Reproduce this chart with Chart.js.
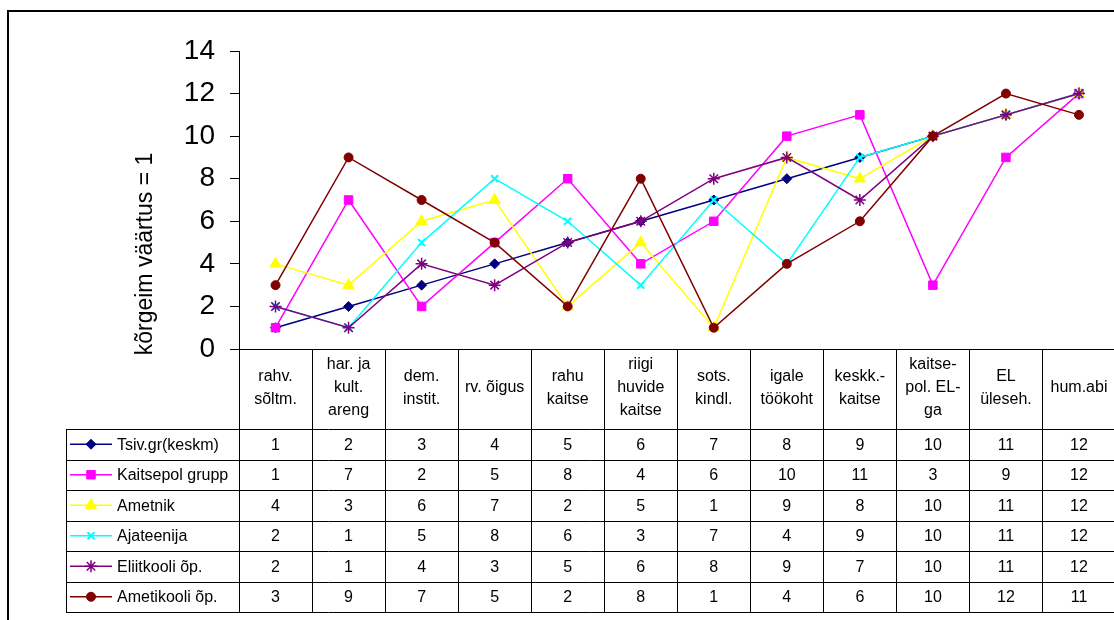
<!DOCTYPE html>
<html>
<head>
<meta charset="utf-8">
<script src="https://cdn.jsdelivr.net/npm/chart.js@4.4.1/dist/chart.umd.min.js"></script>
<style>
  html, body { margin: 0; padding: 0; background: #fff; overflow: hidden; }
  #frame { position: absolute; left: 7px; top: 10px; width: 1200px; height: 700px; border: 2px solid #000; }
  #wrap { position: absolute; left: 0; top: 0; width: 1123px; height: 620px; }
</style>
</head>
<body>
<div id="frame"></div>
<div id="wrap"><canvas id="myChart" width="1123" height="620"></canvas></div>
<script>
// Kategooriad (tabeli päis, mitmerealised)
const categories = [
  ['rahv.', 'sõltm.'],
  ['har. ja', 'kult.', 'areng'],
  ['dem.', 'instit.'],
  ['rv. õigus'],
  ['rahu', 'kaitse'],
  ['riigi', 'huvide', 'kaitse'],
  ['sots.', 'kindl.'],
  ['igale', 'töökoht'],
  ['keskk.-', 'kaitse'],
  ['kaitse-', 'pol. EL-', 'ga'],
  ['EL', 'üleseh.'],
  ['hum.abi']
];

// Seeriad
const tsivGr = [1, 2, 3, 4, 5, 6, 7, 8, 9, 10, 11, 12];
const kaitsepolGrupp = [1, 7, 2, 5, 8, 4, 6, 10, 11, 3, 9, 12];
const ametnik = [4, 3, 6, 7, 2, 5, 1, 9, 8, 10, 11, 12];
const ajateenija = [2, 1, 5, 8, 6, 3, 7, 4, 9, 10, 11, 12];
const eliitkooli = [2, 1, 4, 3, 5, 6, 8, 9, 7, 10, 11, 12];
const ametikooli = [3, 9, 7, 5, 2, 8, 1, 4, 6, 10, 12, 11];

const seriesNames = ['Tsiv.gr(keskm)', 'Kaitsepol grupp', 'Ametnik', 'Ajateenija', 'Eliitkooli õp.', 'Ametikooli õp.'];
const seriesData = [tsivGr, kaitsepolGrupp, ametnik, ajateenija, eliitkooli, ametikooli];
const seriesColors = ['#000080', '#ff00ff', '#ffff00', '#00ffff', '#800080', '#800000'];
const seriesMarkers = ['rectRot', 'rect', 'triangle', 'crossRot', 'star', 'circle'];
const markerSizes = [5, 6, 6.5, 5, 6, 4.5];
const markerBorders = [1, 1, 1, 2, 1.5, 1];

const yAxisTitle = 'kõrgeim väärtus = 1';

const FONT = "'Liberation Sans', Arial, sans-serif";
Chart.defaults.font.family = FONT;

// Tabeli mõõdud
const headerBottom = 429;
const rowHeight = 30.5;
const legendLeft = 66;

const datasets = seriesNames.map(function(name, i) {
  return {
    label: name,
    data: seriesData[i],
    borderColor: seriesColors[i],
    backgroundColor: seriesColors[i],
    borderWidth: 1.5,
    pointStyle: seriesMarkers[i],
    pointRadius: markerSizes[i],
    pointBorderWidth: markerBorders[i],
    pointBackgroundColor: seriesColors[i],
    pointBorderColor: seriesColors[i],
    tension: 0,
    order: seriesNames.length - 1 - i
  };
});

// Andmetabel + telje pealkiri
const tablePlugin = {
  id: 'dataTable',
  afterDraw: function(chart) {
    const ctx = chart.ctx;
    const xs = chart.scales.x;
    const area = chart.chartArea;
    const n = categories.length;
    const centers = [];
    for (let i = 0; i < n; i++) centers.push(xs.getPixelForTick(i));
    const bounds = [area.left];
    for (let i = 1; i < n; i++) bounds.push((centers[i - 1] + centers[i]) / 2);
    bounds.push(area.right);
    const tableBottom = headerBottom + rowHeight * seriesNames.length;

    ctx.save();
    ctx.strokeStyle = '#000';
    ctx.lineWidth = 1;

    // x-telg
    ctx.beginPath();
    ctx.moveTo(area.left, Math.round(area.bottom) + 0.5);
    ctx.lineTo(area.right, Math.round(area.bottom) + 0.5);
    // vertikaalsed jooned
    bounds.forEach(function(b) {
      const bx = Math.round(b) + 0.5;
      ctx.moveTo(bx, area.bottom);
      ctx.lineTo(bx, tableBottom);
    });
    ctx.moveTo(legendLeft + 0.5, headerBottom);
    ctx.lineTo(legendLeft + 0.5, tableBottom);
    // horisontaalsed jooned
    for (let r = 0; r <= seriesNames.length; r++) {
      const y = Math.round(headerBottom + r * rowHeight) + 0.5;
      ctx.moveTo(legendLeft, y);
      ctx.lineTo(area.right, y);
    }
    ctx.stroke();

    // päis
    ctx.fillStyle = '#000';
    ctx.font = '16px ' + FONT;
    ctx.textAlign = 'center';
    ctx.textBaseline = 'middle';
    const headerMid = (area.bottom + headerBottom) / 2 - 1;
    const lh = 23;
    categories.forEach(function(lines, i) {
      const y0 = headerMid - (lines.length - 1) * lh / 2;
      lines.forEach(function(t, k) {
        ctx.fillText(t, centers[i], y0 + k * lh);
      });
    });

    // read
    seriesNames.forEach(function(name, r) {
      const cy = headerBottom + (r + 0.5) * rowHeight;
      // legendi võti
      ctx.strokeStyle = seriesColors[r];
      ctx.fillStyle = seriesColors[r];
      ctx.lineWidth = 1.5;
      ctx.beginPath();
      ctx.moveTo(70, cy);
      ctx.lineTo(112, cy);
      ctx.stroke();
      ctx.lineWidth = markerBorders[r];
      Chart.helpers.drawPoint(ctx, {
        pointStyle: seriesMarkers[r],
        radius: markerSizes[r],
        rotation: 0,
        borderWidth: markerBorders[r]
      }, 91, cy);

      ctx.fillStyle = '#000';
      ctx.textAlign = 'left';
      ctx.fillText(name, 117, cy + 1);
      ctx.textAlign = 'center';
      seriesData[r].forEach(function(v, i) {
        ctx.fillText(String(v), centers[i], cy + 1);
      });
    });

    // y-telje pealkiri
    ctx.save();
    ctx.translate(146, 254);
    ctx.rotate(-Math.PI / 2);
    ctx.font = '23px ' + FONT;
    ctx.fillStyle = '#000';
    ctx.textAlign = 'center';
    ctx.textBaseline = 'middle';
    ctx.fillText(yAxisTitle, 0, 0);
    ctx.restore();

    ctx.restore();
  }
};

const ctx = document.getElementById('myChart');

new Chart(ctx, {
  type: 'line',
  data: {
    labels: categories,
    datasets: datasets
  },
  options: {
    responsive: false,
    animation: false,
    devicePixelRatio: 1,
    layout: {
      padding: { top: 51, right: 4, bottom: 271, left: 0 }
    },
    plugins: {
      legend: { display: false },
      tooltip: { enabled: false }
    },
    scales: {
      x: {
        type: 'category',
        display: false,
        offset: true
      },
      y: {
        min: 0,
        max: 14,
        ticks: {
          stepSize: 2,
          color: '#000',
          padding: 15,
          font: { size: 28, family: FONT }
        },
        grid: {
          drawOnChartArea: false,
          tickLength: 9,
          color: '#000',
          tickColor: '#000'
        },
        border: { color: '#000', width: 1 },
        afterFit: function(scale) {
          scale.width = 239;
        }
      }
    }
  },
  plugins: [tablePlugin]
});
</script>
</body>
</html>
